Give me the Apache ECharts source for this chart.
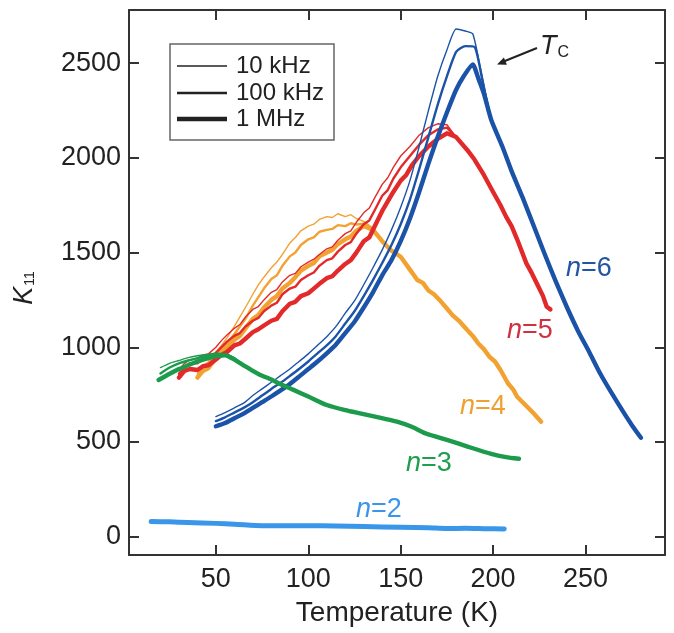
<!DOCTYPE html>
<html><head><meta charset="utf-8">
<script src="https://cdn.jsdelivr.net/npm/echarts@6/dist/echarts.min.js"></script>
<style>html,body{margin:0;padding:0;background:#fff}#c{width:674px;height:633px}</style>
</head><body><div id="c"></div>
<script>
// ---- data (Temperature K, K11) ----
const xTicks = [50, 100, 150, 200, 250];
const yTicks = [0, 500, 1000, 1500, 2000, 2500];

const n2 = [[15,80],[25,78],[35,75],[50,70],[60,66],[75,58],[90,57],[100,58],[115,56],[130,53],[150,50],[165,47],[175,43],[185,44],[195,42],[206,40]];

const n3_10k = [[20,893],[25,915],[30,930],[35,945],[40,955],[45,962],[50,968],[55,965],[60,945]];
const n3_100k = [[20,862],[25,893],[30,915],[35,930],[40,943],[45,955],[50,962],[55,962],[60,940]];
const n3_1M = [[19,827],[25,860],[30,885],[35,905],[40,925],[45,940],[50,952],[55,958],[60,935]];
const n3_tail = [[65,905],[70,875],[74,854],[80,830],[85,805],[92,775],[100,740],[110,695],[120,668],[128,651],[138,630],[148,607],[156,580],[164,543],[175,511],[187,473],[199,437],[207,420],[214,411]];

const n4_10k = [[40,860],[43,900],[46,925],[50,975],[53,1010],[56,1050],[60,1110],[63,1160],[66,1210],[70,1280],[73,1330],[76,1370],[80,1420],[83,1450],[86,1490],[90,1550],[93,1580],[96,1615],[100,1640],[103,1650],[106,1675],[110,1690],[113,1685],[116,1705],[120,1690],[123,1700],[126,1680],[130,1665],[135,1630]];
const n4_100k = [[40,850],[43,885],[46,910],[50,960],[53,985],[56,1020],[60,1070],[63,1110],[66,1150],[70,1220],[73,1265],[76,1310],[80,1360],[83,1380],[86,1430],[90,1480],[93,1500],[96,1540],[100,1570],[103,1580],[106,1610],[110,1620],[113,1625],[116,1645],[120,1640],[123,1655],[126,1648],[130,1652],[135,1625]];
const n4_1M = [[40,840],[43,875],[46,890],[50,945],[53,960],[56,1000],[60,1040],[63,1060],[66,1100],[70,1150],[73,1170],[76,1210],[80,1250],[83,1270],[86,1310],[90,1340],[93,1370],[96,1405],[100,1430],[103,1445],[106,1480],[110,1500],[113,1515],[116,1545],[120,1570],[123,1585],[126,1615],[130,1640],[135,1620]];
const n4_tail = [[140,1560],[145,1510],[150,1478],[155,1410],[159,1355],[162,1340],[165,1300],[168,1280],[171,1250],[175,1205],[178,1170],[182,1135],[186,1091],[189,1060],[192,1020],[195,990],[198,950],[201,925],[204,880],[208,810],[211,775],[213,739],[218,690],[222,650],[226,607]];

const n5_10k = [[30,880],[33,915],[36,935],[40,940],[43,960],[46,965],[50,1000],[53,1035],[56,1065],[60,1100],[63,1120],[66,1160],[70,1200],[73,1215],[76,1250],[80,1290],[83,1305],[86,1345],[90,1380],[93,1390],[96,1425],[100,1450],[103,1465],[106,1490],[110,1520],[113,1530],[116,1565],[120,1600],[123,1615],[126,1660],[130,1710],[133,1735],[136,1790],[140,1860],[143,1895],[146,1950],[150,2010],[155,2060],[160,2120],[165,2160],[170,2180],[175,2175]];
const n5_100k = [[30,860],[33,895],[36,915],[40,915],[43,935],[46,940],[50,970],[53,1000],[56,1030],[60,1060],[63,1075],[66,1110],[70,1140],[73,1155],[76,1190],[80,1220],[83,1235],[86,1280],[90,1310],[93,1320],[96,1355],[100,1380],[103,1395],[106,1430],[110,1460],[113,1470],[116,1505],[120,1540],[123,1555],[126,1600],[130,1650],[133,1670],[136,1725],[140,1800],[143,1830],[146,1890],[150,1950],[155,2010],[160,2070],[165,2120],[170,2150],[175,2160]];
const n5_1M = [[30,840],[33,875],[36,885],[40,880],[43,900],[46,905],[50,935],[53,960],[56,975],[60,1010],[63,1020],[66,1045],[70,1080],[73,1095],[76,1115],[80,1140],[83,1150],[86,1190],[90,1230],[93,1240],[96,1270],[100,1285],[103,1310],[106,1335],[110,1365],[113,1375],[116,1405],[120,1440],[123,1460],[126,1500],[130,1560],[133,1580],[136,1640],[140,1720],[143,1770],[146,1820],[150,1880],[153,1910],[156,1960],[160,2010],[165,2060],[170,2100],[175,2130]];
const n5_tail = [[180,2110],[186,2042],[190,1990],[195,1910],[200,1820],[204,1750],[207,1690],[210,1640],[213,1570],[218,1443],[221,1390],[224,1330],[227,1270],[229,1214],[231,1200]];

const n6_10k = [[50,634],[55,655],[60,680],[65,705],[70,745],[75,780],[80,815],[85,850],[90,885],[95,925],[100,965],[105,1010],[110,1056],[115,1110],[120,1180],[125,1245],[130,1330],[135,1420],[140,1514],[145,1620],[150,1740],[155,1880],[160,2060],[165,2250],[170,2430],[175,2570],[180,2681],[185,2670],[189,2655],[193,2480]];
const n6_100k = [[50,610],[55,630],[60,655],[65,680],[70,710],[75,745],[80,780],[85,812],[90,848],[95,885],[100,925],[105,968],[110,1010],[115,1060],[120,1125],[125,1190],[130,1270],[135,1355],[140,1445],[145,1540],[150,1650],[155,1780],[160,1940],[165,2110],[170,2280],[175,2430],[180,2560],[185,2590],[190,2585],[194,2420]];
const n6_1M = [[50,583],[55,600],[60,625],[65,650],[70,680],[75,710],[80,740],[85,772],[90,806],[95,845],[100,885],[105,925],[110,968],[115,1015],[120,1075],[125,1135],[130,1210],[135,1290],[140,1380],[145,1460],[150,1560],[155,1680],[160,1820],[165,1970],[170,2110],[175,2240],[180,2360],[184,2430],[189,2493],[192,2420],[195,2340]];
const n6_tail = [[199,2200],[205,2060],[210,1930],[216,1790],[222,1640],[228,1490],[234,1345],[240,1210],[246,1085],[252,975],[258,860],[264,760],[270,665],[275,590],[280,522]];

const freqNames = ['10 kHz', '100 kHz', '1 MHz'];

// ---- styling ----
const FONT = 'Liberation Sans, Arial, Helvetica, sans-serif';
const W = [1.4, 2.4, 4.4];
const C = {n2:'#3a96e8', n3:'#1d9b4c', n4:'#f2a232', n5:'#e22a2a', n6:'#1b53a8'};

function mk(name, data, color, width, z, smooth) {
  return {type:'line', name, data, showSymbol:false, symbol:'none', smooth: smooth||false,
    lineStyle:{color, width, cap:'round', join:'round'}, z: z, silent:true, animation:false};
}
const series = [];
const groups = [
  ['n4', [n4_10k, n4_100k, n4_1M], n4_tail, 2, false],
  ['n5', [n5_10k, n5_100k, n5_1M], n5_tail, 3, false],
  ['n6', [n6_10k, n6_100k, n6_1M], n6_tail, 4, 0.2],
  ['n3', [n3_10k, n3_100k, n3_1M], n3_tail, 5, 0.2],
];
groups.forEach(([key, arrs, tail, z, sm]) => {
  [2,1,0].forEach(i => {
    series.push(mk(key + ' ' + freqNames[i], arrs[i].concat(tail), C[key], W[i], z, sm));
  });
});
series.push(mk('n2', n2, C.n2, 5, 6, 0.2));

const axisCommon = {
  type:'value',
  axisLine:{show:true, onZero:false, lineStyle:{color:'#333', width:2}},
  axisTick:{show:true, inside:true, length:10, lineStyle:{color:'#333', width:2}},
  splitLine:{show:false},
};
const plain = v => String(v);

const ann = (x, y, txt, color) => ({
  type:'text', left:x, top:y, z:100,
  style:{text:'{i|n}{r|=' + txt + '}', rich:{
    i:{fontFamily:FONT, fontSize:27, fontStyle:'italic', fill:color},
    r:{fontFamily:FONT, fontSize:27, fill:color}}}
});

const option = {
  backgroundColor:'#fff',
  animation:false,
  grid:{left:129, right:9, top:10, bottom:78, containLabel:false},
  xAxis:[
    Object.assign({}, axisCommon, {min:3, max:293, position:'bottom',
      name:'Temperature (K)', nameLocation:'middle', nameGap:44,
      nameTextStyle:{fontFamily:FONT, fontSize:28, color:'#222'},
      axisTick:Object.assign({}, axisCommon.axisTick, {customValues:xTicks}),
      axisLabel:{customValues:xTicks, formatter:plain, fontFamily:FONT, fontSize:27, color:'#222', margin:11}}),
    Object.assign({}, axisCommon, {min:3, max:293, position:'top',
      axisTick:Object.assign({}, axisCommon.axisTick, {customValues:xTicks}),
      axisLabel:{show:false}})
  ],
  yAxis:[
    Object.assign({}, axisCommon, {min:-97, max:2781, position:'left',
      axisTick:Object.assign({}, axisCommon.axisTick, {customValues:yTicks}),
      axisLabel:{customValues:yTicks, formatter:plain, fontFamily:FONT, fontSize:27, color:'#222', margin:8}}),
    Object.assign({}, axisCommon, {min:-97, max:2781, position:'right',
      axisTick:Object.assign({}, axisCommon.axisTick, {customValues:yTicks}),
      axisLabel:{show:false}})
  ],
  series,
  graphic:[
    // y axis name
    {type:'text', x:24, y:288, rotation:Math.PI/2, z:100,
     style:{text:'{k|K}{s|11}', align:'center', verticalAlign:'middle', rich:{
       k:{fontFamily:FONT, fontSize:27, fontStyle:'italic', fill:'#222'},
       s:{fontFamily:FONT, fontSize:14, fill:'#222', verticalAlign:'bottom', padding:[12,0,0,1]}}}},
    // legend
    {type:'rect', shape:{x:170, y:44, width:164, height:96}, z:90,
     style:{fill:'#fff', stroke:'#666', lineWidth:1.5}},
    {type:'line', shape:{x1:177, y1:66, x2:227, y2:66}, z:91, style:{stroke:'#222', lineWidth:W[0]}},
    {type:'line', shape:{x1:177, y1:93, x2:227, y2:93}, z:91, style:{stroke:'#222', lineWidth:W[1]}},
    {type:'line', shape:{x1:177, y1:119, x2:227, y2:119}, z:91, style:{stroke:'#222', lineWidth:W[2]}},
    {type:'text', x:236, y:66, z:91, style:{text:freqNames[0], fontFamily:FONT, fontSize:24, fill:'#222', verticalAlign:'middle'}},
    {type:'text', x:236, y:93, z:91, style:{text:freqNames[1], fontFamily:FONT, fontSize:24, fill:'#222', verticalAlign:'middle'}},
    {type:'text', x:236, y:119, z:91, style:{text:freqNames[2], fontFamily:FONT, fontSize:24, fill:'#222', verticalAlign:'middle'}},
    // Tc annotation
    {type:'text', x:540, y:46, z:100,
     style:{text:'{t|T}{c|C}', verticalAlign:'middle', rich:{
       t:{fontFamily:FONT, fontSize:27, fontStyle:'italic', fill:'#222'},
       c:{fontFamily:FONT, fontSize:16, fill:'#222', verticalAlign:'bottom', padding:[14,0,0,1]}}}},
    {type:'line', shape:{x1:537, y1:48, x2:503, y2:61.8}, z:100, style:{stroke:'#222', lineWidth:2}},
    {type:'polygon', shape:{points:[[497,64.5],[506.9,64.8],[503.9,57.4]]}, z:100, style:{fill:'#222'}},
    // curve labels
    ann(566, 255, '6', '#2255a5'),
    ann(507, 317, '5', '#d03040'),
    ann(460, 393, '4', '#f0a030'),
    ann(406, 450, '3', '#1e9e50'),
    ann(356, 496, '2', '#3a96e8'),
  ]
};
const chart = echarts.init(document.getElementById('c'), null, {renderer:'canvas'});
chart.setOption(option);
</script></body></html>
